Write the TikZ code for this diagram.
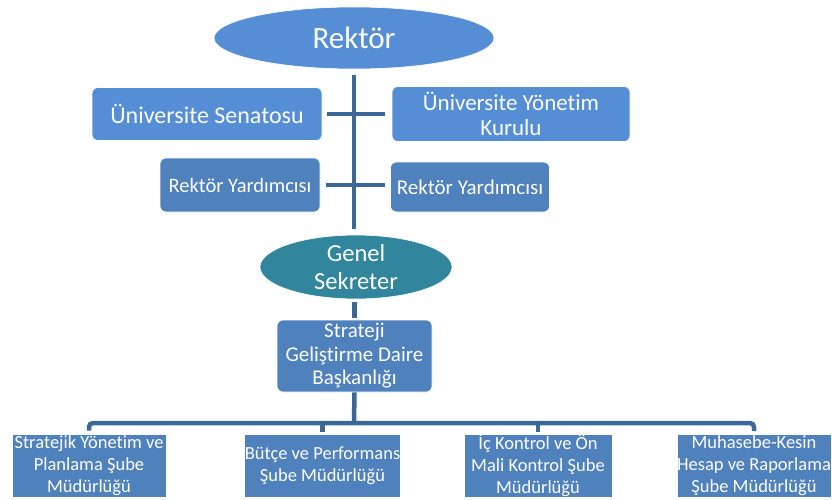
\documentclass[tikz,border=0pt]{standalone}
\usepackage{fontspec}
\setmainfont{Carlito}[Ligatures=NoCommon]
\usetikzlibrary{shapes.geometric}
\definecolor{lightbox}{RGB}{85,142,213}
\definecolor{darkbox}{RGB}{79,129,189}
\definecolor{tealbox}{RGB}{49,133,156}
\definecolor{conn}{RGB}{60,104,152}
\tikzset{
  oval/.style={ellipse, fill=#1, draw=white, line width=0.6pt, text=white, inner sep=0pt, align=center},
  rbox/.style={rectangle, rounded corners=6pt, fill=#1, draw=white, line width=0.6pt, text=white, inner sep=0pt, align=center},
  sbox/.style={rectangle, fill=darkbox, draw=white, line width=0.6pt, text=white, inner sep=0pt, align=center,
     minimum height=63pt, font=\fontsize{18.5}{22}\selectfont},
  link/.style={draw=conn, line width=4.5pt},
}
\begin{document}
\begin{tikzpicture}[x=1pt,y=-1pt]
\useasboundingbox (0,0) rectangle (832,500);
% nodes
\node[oval=lightbox, minimum width=280pt, minimum height=62pt, font=\fontsize{31}{34}\selectfont] (R) at (354,38) {Rektör};
\node[rbox=lightbox, minimum width=230pt, minimum height=53pt, font=\fontsize{24}{26}\selectfont] (Sen) at (207,114) {Üniversite Senatosu};
\node[rbox=lightbox, minimum width=238pt, minimum height=55pt, font=\fontsize{23}{25}\selectfont] (UYK) at (511,114) {Üniversite Yönetim\\Kurulu};
\node[rbox=darkbox, minimum width=160pt, minimum height=54pt, font=\fontsize{20.5}{24}\selectfont] (RYL) at (240,185) {Rektör Yardımcısı};
\node[rbox=darkbox, minimum width=159pt, minimum height=50pt, font=\fontsize{21}{24}\selectfont] (RYR) at (470,187) {Rektör Yardımcısı};
\node[oval=tealbox, minimum width=192pt, minimum height=59pt, font=\fontsize{24.5}{28}\selectfont] (GS) at (356,267) {Genel\\Sekreter};
\node[rbox=darkbox, minimum width=155pt, minimum height=72pt, font=\fontsize{21}{23.5}\selectfont] (SGD) at (354.5,356) {Strateji\\Geliştirme Daire\\Başkanlığı};
\node[sbox, minimum width=154pt] (B1) at (89,465.5) {Stratejik Yönetim ve\\Planlama Şube\\Müdürlüğü};
\node[sbox, minimum width=155pt] (B2) at (322.5,465.5) {Bütçe ve Performans\\Şube Müdürlüğü};
\node[sbox, minimum width=148pt] (B3) at (538,465.5) {İç Kontrol ve Ön\\Mali Kontrol Şube\\Müdürlüğü};
\node[sbox, minimum width=152pt] (B4) at (754,466) {Muhasebe-Kesin\\Hesap ve Raporlama\\Şube Müdürlüğü};
\coordinate (bus) at (354,423);
% connectors
\draw[link, shorten <=6pt, shorten >=6pt] (R.south) -- (R.south |- GS.north);
\draw[link, shorten <=5pt, shorten >=7pt] (Sen.east) -- (Sen.east -| UYK.west);
\draw[link, shorten <=6pt, shorten >=5pt] (RYL.east) -- (RYL.east -| RYR.west);
\draw[link, shorten <=3pt, shorten >=2pt] (GS.south -| SGD.north) -- (SGD.north);
\draw[link] (SGD.south) -- (bus);
\draw[link, rounded corners=4pt] ([yshift=3pt]B1.north) |- (bus) -| ([yshift=3pt]B4.north);
\draw[link] (B2.north |- bus) -- ([yshift=2pt]B2.north);
\draw[link] (B3.north |- bus) -- ([yshift=2pt]B3.north);
\end{tikzpicture}
\end{document}
